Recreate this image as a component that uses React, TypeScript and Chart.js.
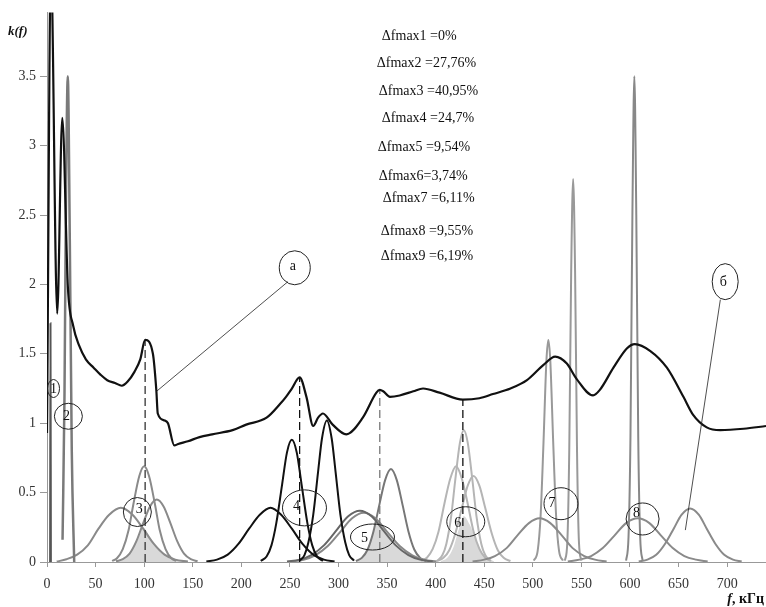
import React, { useEffect, useRef } from 'react';
import { Chart, registerables } from 'chart.js';
Chart.register(...registerables);

// ---- main response curve k(f) ----
const mainF = [0, 4, 10.5, 15.7, 21.5, 27, 33, 40, 48, 55, 62, 70, 77, 83, 90, 96, 101, 109, 112.5, 114, 121, 124.5, 131, 135, 145, 157, 170, 191, 205, 226, 240, 246, 252, 260, 267, 274, 279, 284, 294, 308, 325, 339, 342.5, 346, 353, 363, 377, 387, 404, 428, 445, 459, 477, 494, 511, 523, 535, 545, 562, 569, 583, 597, 605, 621, 638, 655, 665, 679, 693, 717, 740];
const mainK = [0.93, 4.3, 1.79, 3.2, 1.98, 1.70, 1.56, 1.46, 1.40, 1.35, 1.31, 1.29, 1.27, 1.30, 1.37, 1.46, 1.60, 1.50, 1.24, 1.07, 1.02, 1.0, 0.84, 0.85, 0.87, 0.90, 0.92, 0.95, 0.99, 1.04, 1.14, 1.19, 1.25, 1.33, 1.19, 0.98, 1.04, 1.07, 0.99, 0.92, 1.04, 1.22, 1.24, 1.23, 1.19, 1.20, 1.23, 1.25, 1.22, 1.17, 1.18, 1.21, 1.25, 1.31, 1.42, 1.48, 1.43, 1.32, 1.20, 1.24, 1.40, 1.54, 1.57, 1.52, 1.40, 1.19, 1.06, 0.97, 0.95, 0.96, 0.98];

// ---- component spectra ----
const c1F = [3.2, 3.6, 4.0];
const c1K = [0, 1.72, 0];
const c2F = [16, 18, 19.5, 21.4, 23.5, 25.5, 28];
const c2K = [0.16, 1.2, 2.6, 3.5, 2.3, 0.8, 0];

const g3aF = [10, 20, 31, 42, 53, 64, 76, 88, 99, 110, 121, 132, 145];
const g3aK = [0.003, 0.02, 0.053, 0.12, 0.24, 0.34, 0.39, 0.34, 0.24, 0.13, 0.053, 0.017, 0.003];
const g3bF = [67, 72, 78, 84, 89, 95, 100, 105, 111, 116, 122, 128, 133];
const g3bK = [0.008, 0.027, 0.093, 0.23, 0.42, 0.62, 0.69, 0.62, 0.42, 0.23, 0.093, 0.027, 0.008];
const g3cF = [71, 78, 85, 92, 99, 106, 113, 120, 127, 134, 141, 148, 155];
const g3cK = [0.005, 0.02, 0.06, 0.15, 0.28, 0.40, 0.45, 0.40, 0.28, 0.15, 0.06, 0.02, 0.005];
const fill3F = [71, 78, 85, 92, 98, 110, 121, 132, 145];
const fill3K = [0.005, 0.02, 0.06, 0.15, 0.25, 0.13, 0.053, 0.017, 0.003];

const g4aF = [164, 175, 186, 197, 208, 219, 230, 241, 252, 263, 274, 285, 296];
const g4aK = [0.004, 0.017, 0.053, 0.13, 0.24, 0.34, 0.39, 0.34, 0.24, 0.13, 0.053, 0.017, 0.004];
const g4bF = [220, 226, 231, 236, 242, 247, 252, 257, 262, 268, 273, 278, 284];
const g4bK = [0.008, 0.04, 0.12, 0.28, 0.56, 0.79, 0.88, 0.79, 0.56, 0.28, 0.12, 0.04, 0.008];
const g4cF = [260, 265, 269, 274, 279, 283, 288, 293, 297, 302, 307, 311, 316];
const g4cK = [0.01, 0.05, 0.14, 0.34, 0.65, 0.89, 1.02, 0.89, 0.65, 0.34, 0.14, 0.05, 0.01];

const g5aF = [247, 260, 272, 285, 297, 310, 322, 334, 347, 359, 372, 384, 397];
const g5aK = [0.004, 0.017, 0.05, 0.12, 0.22, 0.33, 0.37, 0.33, 0.22, 0.12, 0.05, 0.017, 0.004];
const g5bF = [251, 264, 276, 289, 301, 314, 326, 338, 351, 363, 376, 388, 401];
const g5bK = [0.004, 0.016, 0.048, 0.115, 0.21, 0.315, 0.355, 0.315, 0.21, 0.115, 0.048, 0.016, 0.004];
const g5cF = [318, 324, 330, 336, 342, 348, 354, 360, 366, 372, 378, 384, 390];
const g5cK = [0.007, 0.03, 0.09, 0.22, 0.41, 0.59, 0.67, 0.59, 0.41, 0.22, 0.09, 0.03, 0.007];
const fill5F = [318, 324, 330, 336, 338.3, 342, 347, 359, 372, 384, 397];
const fill5K = [0.007, 0.03, 0.09, 0.22, 0.29, 0.26, 0.22, 0.12, 0.05, 0.017, 0.004];

const g6aF = [402, 407, 411, 416, 420, 425, 429, 433, 438, 442, 447, 451, 456];
const g6aK = [0.01, 0.05, 0.13, 0.33, 0.58, 0.86, 0.95, 0.86, 0.58, 0.33, 0.13, 0.05, 0.01];
const g6bF = [385, 391, 397, 403, 409, 415, 421, 427, 433, 439, 445, 451, 457];
const g6bK = [0.008, 0.031, 0.094, 0.22, 0.42, 0.60, 0.69, 0.60, 0.42, 0.22, 0.094, 0.031, 0.008];
const g6cF = [401, 408, 414, 420, 427, 433, 439, 445, 451, 458, 464, 470, 477];
const g6cK = [0.007, 0.03, 0.085, 0.2, 0.39, 0.55, 0.62, 0.55, 0.39, 0.2, 0.085, 0.03, 0.007];
const fill6F = [405, 412, 418, 424, 429, 435, 441, 447, 453, 460];
const fill6K = [0.005, 0.03, 0.1, 0.24, 0.33, 0.27, 0.17, 0.08, 0.03, 0.005];

const g7aF = [438, 450, 461, 473, 484, 496, 507, 518, 530, 541, 553, 564, 576];
const g7aK = [0.004, 0.017, 0.043, 0.1, 0.19, 0.28, 0.315, 0.28, 0.19, 0.1, 0.043, 0.017, 0.004];
const s7bF = [501, 505, 508, 511, 514, 516, 518, 521, 524, 527, 531];
const s7bK = [0.01, 0.08, 0.33, 0.86, 1.45, 1.6, 1.45, 0.86, 0.33, 0.08, 0.01];
const s7cF = [533, 535.5, 537.5, 539.5, 541.5, 543.5, 545.5, 547.5, 550];
const s7cK = [0.01, 0.14, 0.8, 2.1, 2.76, 2.1, 0.8, 0.14, 0.01];
const s8F = [596, 598.5, 600.5, 602.5, 604.5, 606.5, 608.5, 610.5, 613];
const s8K = [0.01, 0.18, 0.9, 2.5, 3.5, 2.5, 0.9, 0.18, 0.01];
const g8aF = [536, 548, 560, 572, 584, 596, 608, 620, 632, 644, 656, 668, 680];
const g8aK = [0.004, 0.017, 0.043, 0.1, 0.19, 0.28, 0.315, 0.28, 0.19, 0.1, 0.043, 0.017, 0.004];
const g8bF = [609, 618, 627, 636, 645, 653, 662, 671, 679, 688, 697, 706, 715];
const g8bK = [0.004, 0.017, 0.052, 0.13, 0.24, 0.34, 0.386, 0.34, 0.24, 0.13, 0.052, 0.017, 0.004];

// ---- dashed markers of the resonance peaks ----
const dashF = [101, 260, 342.5, 428];
const dashTop = [1.6, 1.33, 1.24, 1.17];
const dashColors = ['#333', '#111', '#777', '#111'];

// ---- axis ticks ----
const xTickStep = 50;
const yTickStep = 0.5;

// ---- annotations ----
const dfLabels = ['Δfmax1 =0%', 'Δfmax2 =27,76%', 'Δfmax3 =40,95%', 'Δfmax4 =24,7%', 'Δfmax5 =9,54%', 'Δfmax6=3,74%', 'Δfmax7 =6,11%', 'Δfmax8 =9,55%', 'Δfmax9 =6,19%'];
const dfF = [344.6, 339.4, 341.5, 344.6, 340.5, 341.5, 345.6, 343.5, 343.5];
const dfK = [3.79, 3.59, 3.39, 3.20, 2.99, 2.78, 2.62, 2.38, 2.20];

const ellLabels = ['1', '2', '3', '4', '5', '6', '7', '8', 'а', 'б'];
const ellF = [6.7, 22, 93, 265, 335, 431, 529, 613, 255, 698];
const ellK = [1.25, 1.05, 0.36, 0.39, 0.18, 0.29, 0.42, 0.31, 2.12, 2.02];
const ellRx = [6, 14, 14, 22, 22, 19, 17, 16.5, 15.5, 13];
const ellRy = [9, 13, 14.5, 18, 13, 15, 16, 16, 17, 18];
const ellTx = [0, -2, 2, -8, -8, -8, -9, -6, -2, -2];
const ellTy = [0, -1, -4, -3, 0, 1, -1, -7, -2, 0];

const leadF1 = [248, 693];
const leadK1 = [2.02, 1.89];
const leadF2 = [112.8, 657];
const leadK2 = [1.23, 0.23];

const SERIF = "'Liberation Serif', 'Times New Roman', serif";

const pts = (fs: number[], ks: number[]) => fs.map((f, i) => ({ x: f, y: ks[i] }));

const line = (fs: number[], ks: number[], color: string, width: number, order: number) => ({
  data: pts(fs, ks),
  borderColor: color,
  borderWidth: width,
  pointRadius: 0,
  cubicInterpolationMode: 'monotone' as const,
  fill: false,
  order,
});

const area = (fs: number[], ks: number[]) => ({
  data: pts(fs, ks),
  borderColor: 'rgba(0,0,0,0)',
  borderWidth: 0,
  backgroundColor: '#d9d9d9',
  pointRadius: 0,
  cubicInterpolationMode: 'monotone' as const,
  fill: 'origin',
  order: 10,
});

const annotate = {
  id: 'annotate',
  afterDatasetsDraw(chart: any) {
    const ctx = chart.ctx as CanvasRenderingContext2D;
    const xs = chart.scales.x;
    const ys = chart.scales.y;
    const ca = chart.chartArea;
    ctx.save();
    // leader lines
    ctx.strokeStyle = '#222';
    ctx.lineWidth = 0.8;
    for (let i = 0; i < leadF1.length; i++) {
      ctx.beginPath();
      ctx.moveTo(xs.getPixelForValue(leadF1[i]), ys.getPixelForValue(leadK1[i]));
      ctx.lineTo(xs.getPixelForValue(leadF2[i]), ys.getPixelForValue(leadK2[i]));
      ctx.stroke();
    }
    // ellipses
    ctx.font = `14px ${SERIF}`;
    ctx.textAlign = 'center';
    ctx.textBaseline = 'middle';
    for (let i = 0; i < ellLabels.length; i++) {
      const cx = xs.getPixelForValue(ellF[i]);
      const cy = ys.getPixelForValue(ellK[i]);
      ctx.beginPath();
      ctx.ellipse(cx, cy, ellRx[i], ellRy[i], 0, 0, Math.PI * 2);
      ctx.strokeStyle = '#222';
      ctx.lineWidth = 1;
      ctx.stroke();
      ctx.fillStyle = '#111';
      ctx.fillText(ellLabels[i], cx + ellTx[i], cy + ellTy[i] + 1);
    }
    // delta f text block
    ctx.textAlign = 'left';
    ctx.font = `14px ${SERIF}`;
    for (let i = 0; i < dfLabels.length; i++) {
      ctx.fillText(dfLabels[i], xs.getPixelForValue(dfF[i]), ys.getPixelForValue(dfK[i]));
    }
    // axis titles
    ctx.font = `italic bold 13px ${SERIF}`;
    ctx.textBaseline = 'middle';
    ctx.fillText('k(f)', ca.left - 39, ca.top + 19);
    ctx.textBaseline = 'alphabetic';
    const rest = ', кГц';
    ctx.font = `bold 14px ${SERIF}`;
    const wRest = ctx.measureText(rest).width;
    ctx.font = `italic bold 14px ${SERIF}`;
    const wF = ctx.measureText('f').width;
    const xEnd = chart.width - 2;
    ctx.fillText('f', xEnd - wRest - wF, chart.height - 4);
    ctx.font = `bold 14px ${SERIF}`;
    ctx.fillText(rest, xEnd - wRest, chart.height - 4);
    ctx.restore();
  },
};

export default function App() {
  const ref = useRef<HTMLCanvasElement>(null);
  useEffect(() => {
    document.body.style.margin = '0';
    const datasets: any[] = [
      line(mainF, mainK, '#111', 2.2, 0),
      line(c1F, c1K, '#555', 2, 2),
      line(c2F, c2K, '#7a7a7a', 2.5, 2),
      line(g3aF, g3aK, '#8a8a8a', 2, 3),
      line(g3bF, g3bK, '#8a8a8a', 2, 3),
      line(g3cF, g3cK, '#8a8a8a', 2, 3),
      area(fill3F, fill3K),
      line(g4aF, g4aK, '#111', 2, 1),
      line(g4bF, g4bK, '#111', 2, 1),
      line(g4cF, g4cK, '#111', 2, 1),
      line(g5aF, g5aK, '#666', 2, 3),
      line(g5bF, g5bK, '#888', 2, 3),
      line(g5cF, g5cK, '#777', 2, 3),
      area(fill5F, fill5K),
      line(g6aF, g6aK, '#b5b5b5', 2, 4),
      line(g6bF, g6bK, '#b5b5b5', 2, 4),
      line(g6cF, g6cK, '#b5b5b5', 2, 4),
      area(fill6F, fill6K),
      line(g7aF, g7aK, '#8a8a8a', 2, 3),
      line(s7bF, s7bK, '#999', 2, 3),
      line(s7cF, s7cK, '#999', 2, 3),
      line(s8F, s8K, '#888', 2, 3),
      line(g8aF, g8aK, '#8a8a8a', 2, 3),
      line(g8bF, g8bK, '#8a8a8a', 2, 3),
    ];
    dashF.forEach((f, i) => {
      datasets.push({
        data: [{ x: f, y: 0 }, { x: f, y: dashTop[i] }],
        borderColor: dashColors[i],
        borderWidth: 1.3,
        borderDash: [8, 4],
        pointRadius: 0,
        tension: 0,
        fill: false,
        order: 1,
      });
    });

    const chart = new Chart(ref.current!, {
      type: 'line',
      data: { datasets },
      options: {
        animation: false,
        responsive: true,
        maintainAspectRatio: false,
        events: [],
        layout: { padding: { top: 12, right: 0, left: 0, bottom: 0 } },
        plugins: { legend: { display: false }, tooltip: { enabled: false } },
        scales: {
          x: {
            type: 'linear',
            min: 0,
            max: 740,
            ticks: {
              stepSize: xTickStep,
              color: '#333',
              font: { family: SERIF, size: 14 },
              padding: 9,
              maxRotation: 0,
              callback: (v: any) => String(v),
            },
            afterBuildTicks: (s: any) => {
              s.ticks = s.ticks.filter((t: any) => t.value % xTickStep === 0);
            },
            afterFit: (s: any) => { s.height = 45; },
            grid: { drawOnChartArea: false, drawTicks: true, tickLength: 5, color: '#999' },
            border: { display: true, color: '#999', width: 1 },
          },
          y: {
            type: 'linear',
            min: 0,
            max: 3.96,
            ticks: {
              stepSize: yTickStep,
              color: '#333',
              font: { family: SERIF, size: 14 },
              padding: 4,
              callback: (v: any) => String(v),
            },
            afterBuildTicks: (s: any) => {
              s.ticks = s.ticks.filter((t: any) => Math.abs(t.value / yTickStep - Math.round(t.value / yTickStep)) < 1e-6 && t.value <= 3.5 + 1e-6);
            },
            afterFit: (s: any) => { s.width = 47; },
            grid: { drawOnChartArea: false, drawTicks: true, tickLength: 7, color: '#999' },
            border: { display: true, color: '#999', width: 1 },
          },
        },
      },
      plugins: [annotate],
    });
    return () => chart.destroy();
  }, []);
  return (
    <div style={{ position: 'absolute', left: 0, top: 0, width: 766, height: 607 }}>
      <canvas ref={ref} />
    </div>
  );
}
